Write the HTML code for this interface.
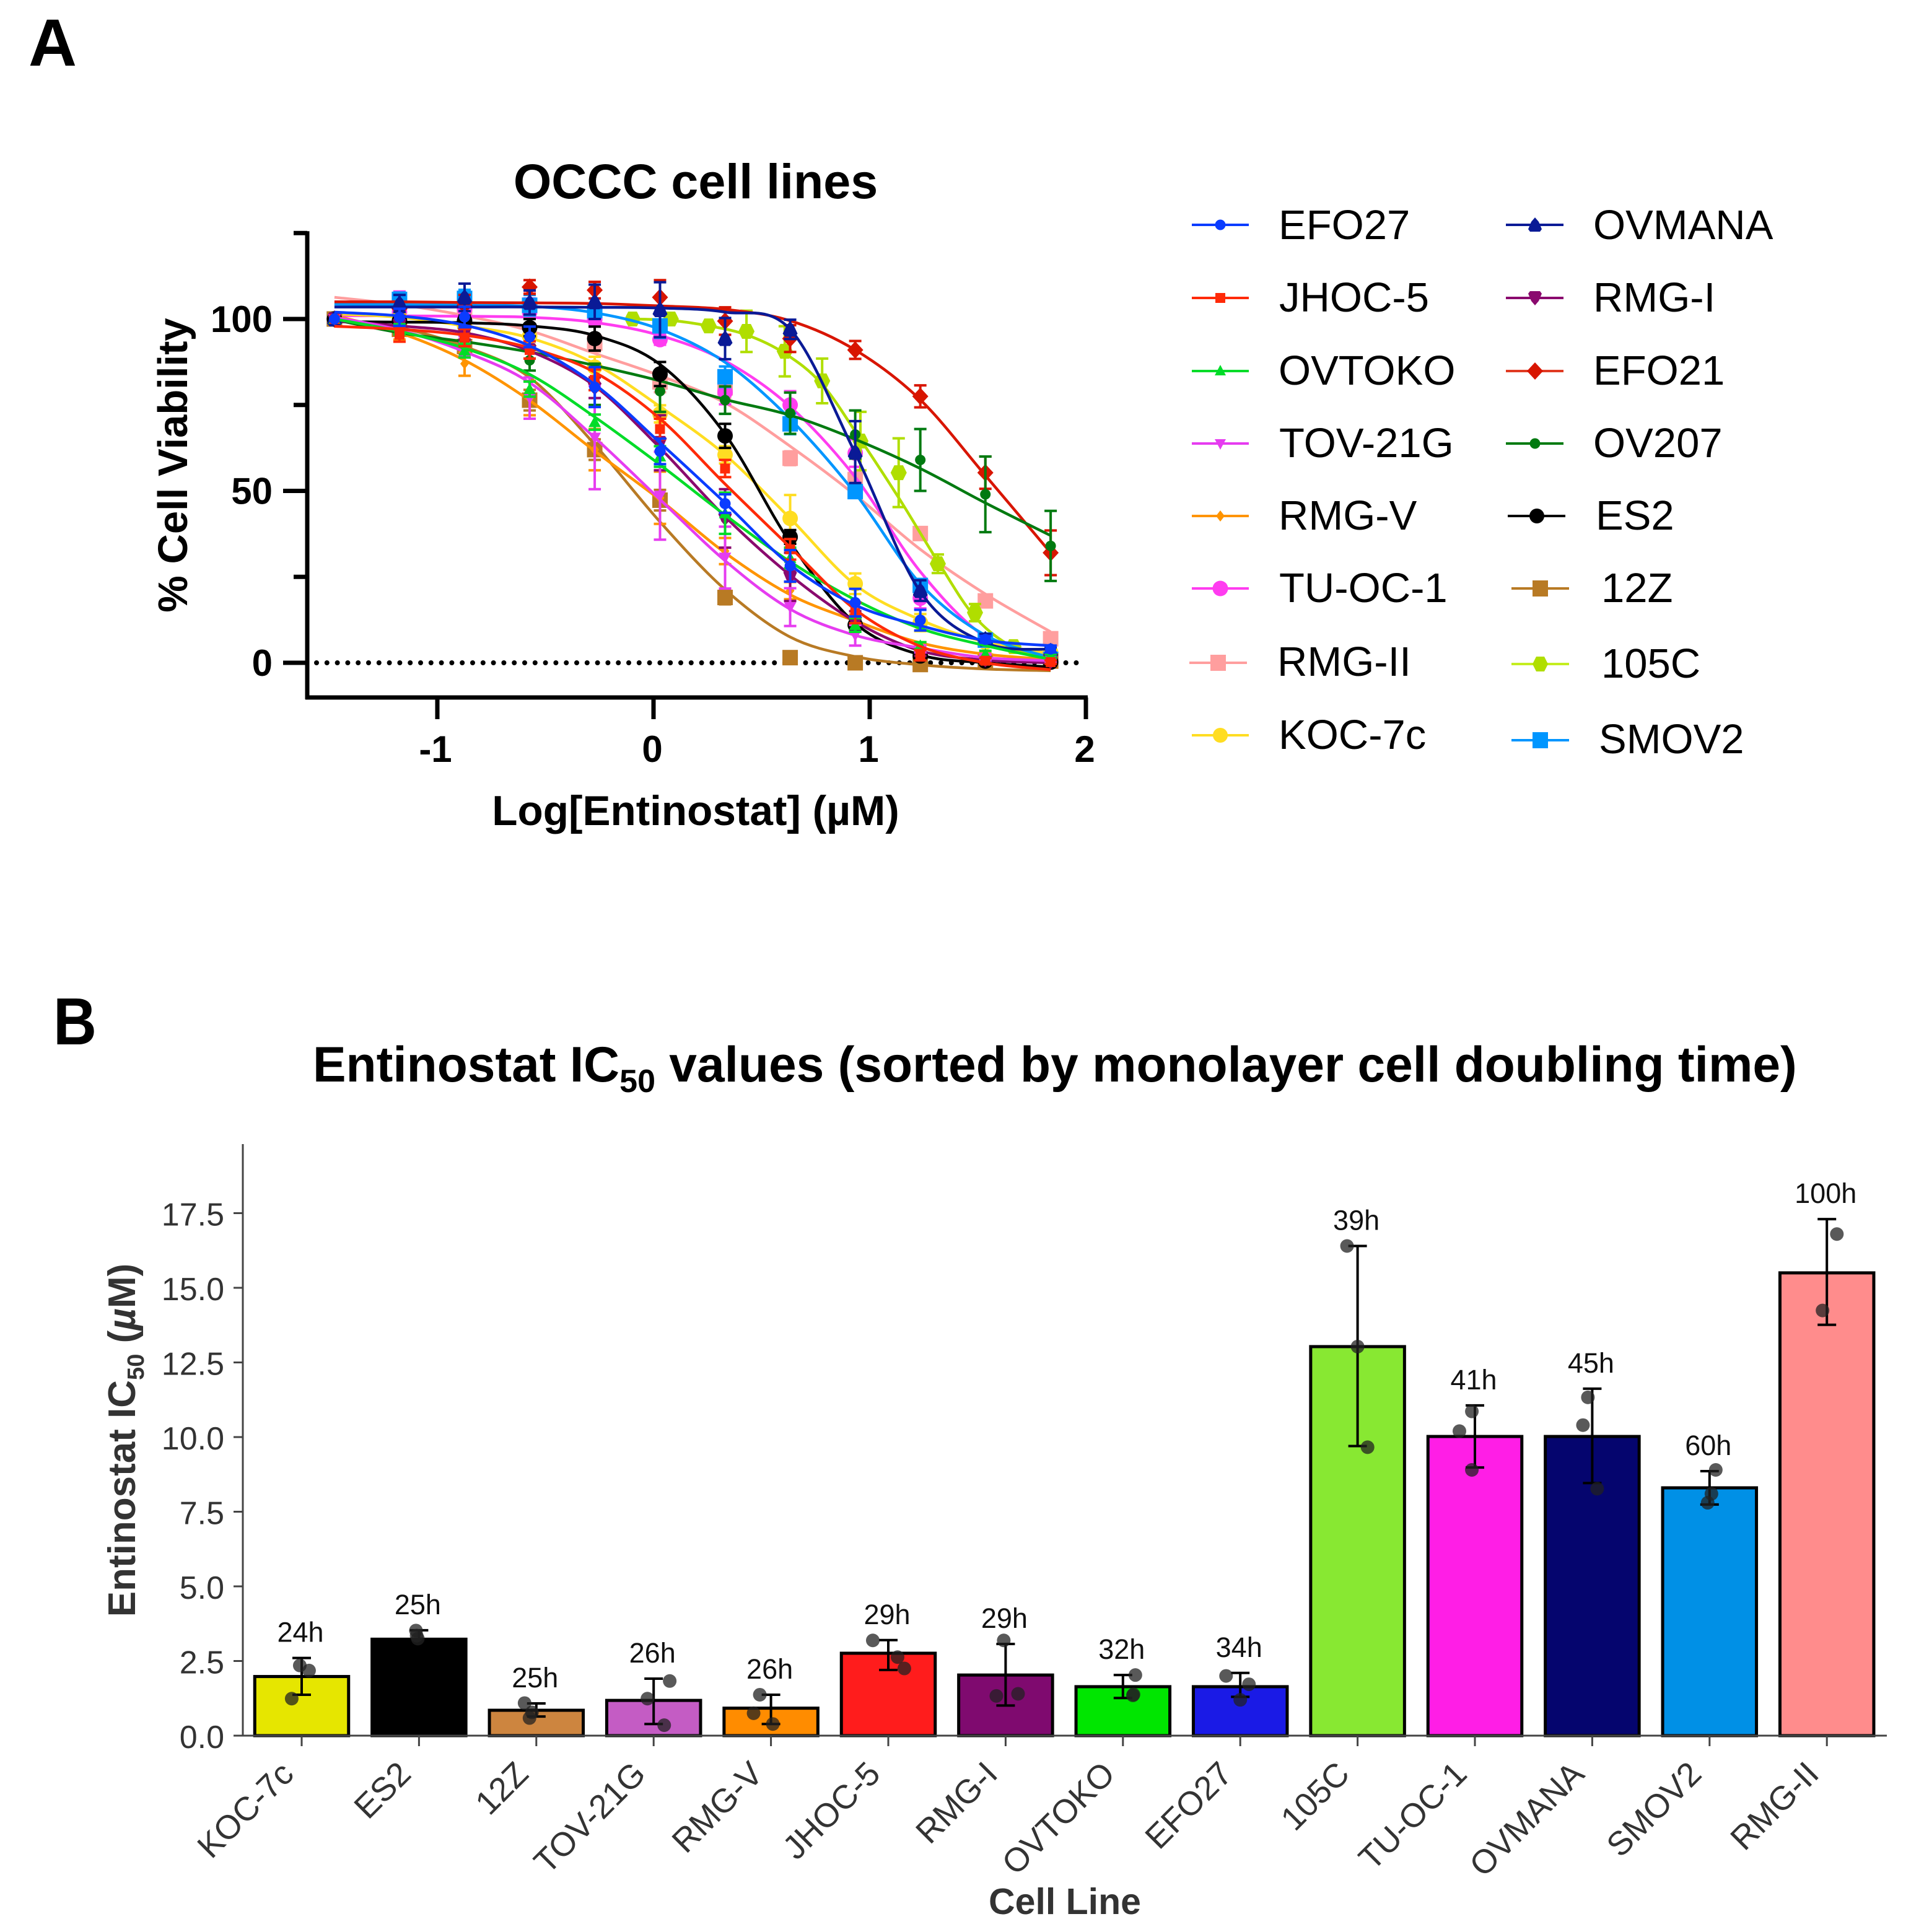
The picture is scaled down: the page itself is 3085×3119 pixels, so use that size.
<!DOCTYPE html>
<html lang="en">
<head>
<meta charset="utf-8">
<title>Entinostat viability and IC50 in OCCC cell lines</title>
<style>
html,body{margin:0;padding:0;background:#fff;}
svg{display:block;font-family:"Liberation Sans",Arial,sans-serif;}
</style>
</head>
<body>
<svg id="fig" xmlns="http://www.w3.org/2000/svg" width="3085" height="3119" viewBox="0 0 3085 3119">
  <rect width="3085" height="3119" fill="#fff"/>

  <text x="46" y="106" font-size="108" font-weight="700">A</text>
  <text x="86" y="1686" font-size="108" font-weight="700" textLength="70" lengthAdjust="spacingAndGlyphs">B</text>

  <text x="1123" y="320" font-size="79" font-weight="700" text-anchor="middle">OCCC cell lines</text>
  <text x="302" y="751" font-size="67" font-weight="700" text-anchor="middle" transform="rotate(-90 302 751)">% Cell Viability</text>
  <text x="1123" y="1332" font-size="67.5" font-weight="700" text-anchor="middle">Log[Entinostat] (µM)</text>

  <g id="plotA"></g>

  <g font-size="67">
    <g><line x1="1924" x2="2016" y1="363" y2="363" stroke="#0a3cff" stroke-width="4"/><circle cx="1970" cy="363" r="8.5" fill="#0a3cff"/><text x="2064" y="386">EFO27</text></g>
    <g><line x1="1924" x2="2016" y1="481" y2="481" stroke="#ff2a08" stroke-width="4"/><rect x="1962" y="473" width="16" height="16" fill="#ff2a08"/><text x="2065" y="503">JHOC-5</text></g>
    <g><line x1="1924" x2="2016" y1="599" y2="599" stroke="#00dc28" stroke-width="4"/><path d="M1970 589L1979 606H1961Z" fill="#00dc28"/><text x="2064" y="621">OVTOKO</text></g>
    <g><line x1="1924" x2="2016" y1="716" y2="716" stroke="#e63cf0" stroke-width="4"/><path d="M1970 726L1961 709H1979Z" fill="#e63cf0"/><text x="2065" y="738">TOV-21G</text></g>
    <g><line x1="1924" x2="2016" y1="833" y2="833" stroke="#ff9400" stroke-width="4"/><path d="M1970 824L1977 833L1970 842L1963 833Z" fill="#ff9400"/><text x="2064" y="855">RMG-V</text></g>
    <g><line x1="1924" x2="2016" y1="950" y2="950" stroke="#ff3cf0" stroke-width="4"/><circle cx="1970" cy="950" r="12.5" fill="#ff3cf0"/><text x="2065" y="972">TU-OC-1</text></g>
    <g><line x1="1920" x2="2013" y1="1070" y2="1070" stroke="#ff9e9e" stroke-width="4"/><rect x="1954" y="1057" width="25" height="26" fill="#ff9e9e"/><text x="2062" y="1091">RMG-II</text></g>
    <g><line x1="1924" x2="2016" y1="1187" y2="1187" stroke="#ffdd22" stroke-width="4"/><circle cx="1970" cy="1187" r="12" fill="#ffdd22"/><text x="2064" y="1209">KOC-7c</text></g>

    <g><line x1="2431" x2="2524" y1="363" y2="363" stroke="#0a1a96" stroke-width="4"/><path d="M2478 351L2484 358L2489 370L2486 374H2470L2467 370L2472 358Z" fill="#0a1a96"/><text x="2572" y="386">OVMANA</text></g>
    <g><line x1="2431" x2="2524" y1="481" y2="481" stroke="#8a0a6e" stroke-width="4"/><path d="M2478 493L2472 486L2467 474L2470 470H2486L2489 474L2484 486Z" fill="#8a0a6e"/><text x="2572" y="503">RMG-I</text></g>
    <g><line x1="2431" x2="2524" y1="599" y2="599" stroke="#e03a22" stroke-width="4"/><path d="M2478 585L2491 599L2478 613L2465 599Z" fill="#d81500"/><text x="2572" y="621">EFO21</text></g>
    <g><line x1="2431" x2="2524" y1="716" y2="716" stroke="#007a10" stroke-width="4"/><circle cx="2478" cy="716" r="8.5" fill="#007a10"/><text x="2572" y="738">OV207</text></g>
    <g><line x1="2434" x2="2527" y1="833" y2="833" stroke="#000" stroke-width="4"/><circle cx="2481" cy="833" r="12" fill="#000"/><text x="2576" y="855">ES2</text></g>
    <g><line x1="2440" x2="2533" y1="950" y2="950" stroke="#b87a24" stroke-width="4"/><rect x="2474" y="937" width="25" height="26" fill="#b87a24"/><text x="2585" y="972">12Z</text></g>
    <g><line x1="2440" x2="2533" y1="1072" y2="1072" stroke="#c4ee20" stroke-width="4"/><path d="M2474 1072L2480 1060H2493L2499 1072L2493 1084H2480Z" fill="#b0de00"/><text x="2585" y="1094">105C</text></g>
    <g><line x1="2440" x2="2533" y1="1195" y2="1195" stroke="#0096ff" stroke-width="4"/><rect x="2474" y="1182" width="25" height="26" fill="#0096ff"/><text x="2581" y="1216">SMOV2</text></g>
  </g>

  <text x="505" y="1746" font-size="80.3" font-weight="700">Entinostat IC<tspan dy="17" font-size="52">50</tspan><tspan dy="-17"> values (sorted by monolayer cell doubling time)</tspan></text>
  <text x="218" y="2325" font-size="62" font-weight="700" fill="#333" text-anchor="middle" transform="rotate(-90 218 2325)">Entinostat IC<tspan dy="14" font-size="38">50</tspan><tspan dy="-14"> (</tspan><tspan font-style="italic">µ</tspan>M)</text>
  <text x="1719" y="3090" font-size="59" font-weight="700" fill="#333" text-anchor="middle">Cell Line</text>

  <g id="plotB"></g>
</svg>

<script>
// ---------- Panel A data: log10 dose ----------
const doses = [-1.476,-1.175,-0.874,-0.573,-0.272,0.03,0.331,0.632,0.933,1.234,1.535,1.837];
const doses105C = [-0.097,0.08,0.255,0.43,0.607,0.78,0.957,1.134,1.315,1.487,1.665];
const curveDoses105C = [-0.097,0.08,0.255,0.43,0.607,0.78,0.957,1.134,1.315,1.487,1.665,1.837];

const pointsEFO27 = [100,100.5,100.6,94.8,80.2,61.5,46.3,28.2,17.5,12.4,6.8,4];
const errEFO27 = [0,2.5,3,3,5.8,3.7,2.7,4.6,4,3,1,1];
const curveEFO27 = [102,100.9,98.2,92.2,81,64,46.5,28.5,16.8,10.8,6.5,5];

const pointsJHOC5 = [100,95.4,94.6,91,82.3,68,56.5,33,14.5,2.2,0.6,0.2];
const errJHOC5 = [0,2,2.5,2.5,3,3,2.5,3,3,1.5,0.8,0.5];
const curveJHOC5 = [97.9,97,95.3,91.6,84.5,71,52,33.6,15.5,4.8,0,-2];

const pointsOVTOKO = [100,97,90.8,79.6,70,60,43.5,30.5,11,5,2.5,2];
const errOVTOKO = [0,1.5,2,2.2,2.2,3,6,3,2,1,1,0.5];
const curveOVTOKO = [100,96.4,91.5,83.9,71.5,57.6,43,29.4,18.3,10,5,1];

const pointsTOV21G = [100,97,92,77,65.5,48.6,30.6,16.2,8,4,1.5,0.6];
const errTOV21G = [0,1.5,3,6,15,12.8,9,5.5,3,1,0.8,0.5];
const curveTOV21G = [100.5,96.8,90.5,81.5,65.5,47.5,29.7,15.6,8,4.3,1.5,0.6];

const pointsRMGV = [100,96,87,77,62,48,32.5,21,12,5,2,1];
const errRMGV = [0,2,3.5,5,6,7.6,3.8,2.5,2,1,0.8,0.5];
const curveRMGV = [101,96,88,76.3,61.6,47.4,32,19.8,12.2,5.8,2.5,1];

const pointsTUOC1 = [100,102,103,102,99.8,94,78.7,75,61,18.8,6,1];
const errTUOC1 = [0,6,3,4,1.5,1.5,3.5,4,4,3,1,0.5];
const curveTUOC1 = [101,100.9,100.8,100.5,99,95.2,87.8,74.5,54,26.5,7.5,0.8];

const pointsRMGII = [100,105,103,104,93,81.7,80,59.5,53.3,37.6,18,7];
const errRMGII = [0,2,3,4,2.5,3,3,2,2,1.5,1,0.8];
const curveRMGII = [106.3,104.2,101,96.6,90,83.5,75.6,63,48.8,33,20,9];

const pointsKOC7c = [100,100.5,98,95,86,72.4,60.5,42,23,11.7,6,3];
const errKOC7c = [0,2,2,2.5,3,2.5,2.5,6.8,3,2.5,1,0.8];
const curveKOC7c = [101.5,100.5,98,94.5,87,74.5,60.5,42,22.7,12.5,6,2.7];

const pointsOVMANA = [100,104.5,106.3,104.8,105,102.7,94.3,97,61.3,21,6.9,3.5];
const errOVMANA = [0,2.5,4,3.5,5,8,6,2.8,9,3,1.5,1];
const curveOVMANA = [103.5,103.5,103.5,103.5,103.4,103.2,102,97,61,20.7,5.8,3.9];

const pointsRMGI = [100,98.5,96,91,80,64,42,25,12,3,0.8,0.3];
const errRMGI = [0,1,2,2.5,3,8,8.5,7,3,1,0.5,0.3];
const curveRMGI = [99.5,98,96,90.7,80.5,62.5,42.5,25.5,12,3.5,0.8,0];

const pointsEFO21 = [100,103,104,109.3,108.4,106.3,99.4,94.3,91,77.5,55.3,32];
const errEFO21 = [0,2,3,2,2.4,5,4,3.9,2.6,3.2,4.7,6.5];
const curveEFO21 = [105,105,104.8,104.7,104.5,103.8,102.8,99.5,91,76.5,54.5,32];

const pointsOV207 = [100,97,93,88,81,79,76.4,72.6,66.4,59,49,34];
const errOV207 = [0,1.5,2,3,6,6,4,6,7,9,11,10.2];
const curveOV207 = [99.8,96,93.4,90.4,86.5,82,76.6,72,65,56.5,46.5,37];

const pointsES2 = [100,99.5,99.5,97.5,94.3,84,66,36.6,11,2,0.5,0.2];
const errES2 = [0,1,1.5,2.5,3.5,3.5,3.5,2,1.5,0.8,0.5,0.5];
const curveES2 = [99.2,99.1,98.9,98,95.2,86.8,66.5,35,11.5,2.3,0,-1.2];

const points12Z = [100,97,92,76.4,62,47.3,19,1.5,0,-0.5,0.5,0.5];
const err12Z = [0,1.5,2,3,3,3,2,1,0.8,0.5,0.5,0.5];
const curve12Z = [100,97.5,92,83,63.5,41,21.3,7.5,1.8,-0.6,-1.8,-2.3];

const points105C = [100,100,98,96.4,90.6,82,64.5,55.3,28.8,14.6,4.7];
const err105C = [0.8,0.8,0.8,6,7.3,6.5,8.5,10,2.7,2.5,1];
const curve105C = [100,99.6,98,95.4,90,81,65,48,29.5,13.3,4.4,0.9];

const pointsSMOV2 = [100,105.7,106,104,102.4,98,83.2,69.5,49.8,22.5,6.6,1];
const errSMOV2 = [0,2,2.5,3,2,3.5,3,3,1.5,1,1,0.5];
const curveSMOV2 = [104.3,104.2,104,103.7,101.8,97,87.4,70.9,49.3,23,8,1.5];

const yMajorA = [0,50,100];
const yMinorA = [25,75,125];
const xTicksA = [-1,0,1,2];

// ---------- Panel B data ----------
const barCategories = ['KOC-7c','ES2','12Z','TOV-21G','RMG-V','JHOC-5','RMG-I','OVTOKO','EFO27','105C','TU-OC-1','OVMANA','SMOV2','RMG-II'];
const barValues = [1.98,3.23,0.85,1.18,0.92,2.76,2.03,1.64,1.64,13.03,10.02,10.02,8.3,15.5];
const barHigh = [2.6,3.53,1.08,1.91,1.37,3.2,3.07,2.03,2.1,16.4,11.06,11.62,8.86,17.3];
const barLow = [1.37,2.93,0.64,0.39,0.39,2.2,1.01,1.26,1.3,9.7,8.98,8.46,7.74,13.76];
const barHours = ['24h','25h','25h','26h','26h','29h','29h','32h','34h','39h','41h','45h','60h','100h'];
const replicateValues = [[2.35,2.18,1.24],[3.52,3.35,3.25],[1.09,0.78,0.59],[1.83,1.24,0.35],[1.37,0.75,0.39],[3.19,2.63,2.25],[3.19,1.33,1.4],[2.03,1.38,1.35],[2,1.72,1.2],[16.4,13.03,9.66],[10.2,10.86,8.9],[10.4,11.33,8.27],[8.9,8.1,7.8],[16.8,14.24]];
const replicateJitter = [[-0.016,0.063,-0.085],[-0.026,-0.02,-0.01],[-0.1,-0.037,-0.058],[0.137,-0.053,0.09],[-0.095,-0.148,0.016],[-0.132,0.079,0.137],[-0.016,-0.079,0.106],[0.106,0.09,0.085],[-0.121,0.074,0],[-0.09,0,0.085],[-0.132,-0.026,-0.026],[-0.079,-0.037,0.042],[0.053,0.016,-0.016],[0.085,-0.037]];
const yTicksB = [0,2.5,5,7.5,10,12.5,15,17.5];

// ---------- helpers ----------
const NS = 'http://www.w3.org/2000/svg';
function mk(tag, parent, attrs) {
  const el = document.createElementNS(NS, tag);
  for (const k in attrs) el.setAttribute(k, attrs[k]);
  parent.appendChild(el);
  return el;
}
function slug(s) { return s.toLowerCase().replace(/[^a-z0-9]+/g, '-'); }

// ---------- Panel A ----------
const plotA = document.getElementById('plotA');
const xA = v => 1055 + 349 * v;
const yA = v => 1070 - 5.55 * v;

const MARKERS = {
  dotS: (g, c) => mk('circle', g, {r: 9, fill: c}),
  dotM: (g, c) => mk('circle', g, {r: 8.5, fill: c}),
  dotL: (g, c) => mk('circle', g, {r: 12.5, fill: c}),
  sqS: (g, c) => mk('rect', g, {x: -8, y: -8, width: 16, height: 16, fill: c}),
  sqL: (g, c) => mk('rect', g, {x: -12.5, y: -12.5, width: 25, height: 25, fill: c}),
  tri: (g, c) => mk('path', g, {d: 'M0-10L10 8H-10Z', fill: c}),
  triDown: (g, c) => mk('path', g, {d: 'M0 10L-10-8H10Z', fill: c}),
  diaS: (g, c) => mk('path', g, {d: 'M0-9L7 0L0 9L-7 0Z', fill: c}),
  dia: (g, c) => mk('path', g, {d: 'M0-14L13 0L0 14L-13 0Z', fill: c}),
  house: (g, c) => mk('path', g, {d: 'M0-13L6-6L12 7L8 12H-8L-12 7L-6-6Z', fill: c}),
  houseDown: (g, c) => mk('path', g, {d: 'M0 12L-6 5L-11-7L-8-11H8L11-7L6 5Z', fill: c}),
  hex: (g, c) => mk('path', g, {d: 'M-13 0L-7-12H7L13 0L7 12H-7Z', fill: c})
};

const seriesList = [
  {name: 'RMG-II', color: '#ff9e9e', marker: 'sqL', x: doses, cx: doses, pts: pointsRMGII, err: errRMGII, curve: curveRMGII},
  {name: 'TU-OC-1', color: '#ff3cf0', marker: 'dotL', x: doses, cx: doses, pts: pointsTUOC1, err: errTUOC1, curve: curveTUOC1},
  {name: 'KOC-7c', color: '#ffdd22', marker: 'dotL', x: doses, cx: doses, pts: pointsKOC7c, err: errKOC7c, curve: curveKOC7c},
  {name: '105C', color: '#b0de00', marker: 'hex', x: doses105C, cx: curveDoses105C, pts: points105C, err: err105C, curve: curve105C},
  {name: 'SMOV2', color: '#0096ff', marker: 'sqL', x: doses, cx: doses, pts: pointsSMOV2, err: errSMOV2, curve: curveSMOV2},
  {name: '12Z', color: '#b87a24', marker: 'sqL', x: doses, cx: doses, pts: points12Z, err: err12Z, curve: curve12Z},
  {name: 'RMG-V', color: '#ff9400', marker: 'diaS', x: doses, cx: doses, pts: pointsRMGV, err: errRMGV, curve: curveRMGV},
  {name: 'EFO21', color: '#d81500', marker: 'dia', x: doses, cx: doses, pts: pointsEFO21, err: errEFO21, curve: curveEFO21},
  {name: 'OV207', color: '#007a10', marker: 'dotM', x: doses, cx: doses, pts: pointsOV207, err: errOV207, curve: curveOV207},
  {name: 'ES2', color: '#000000', marker: 'dotL', x: doses, cx: doses, pts: pointsES2, err: errES2, curve: curveES2},
  {name: 'RMG-I', color: '#8a0a6e', marker: 'houseDown', x: doses, cx: doses, pts: pointsRMGI, err: errRMGI, curve: curveRMGI},
  {name: 'OVMANA', color: '#0a1a96', marker: 'house', x: doses, cx: doses, pts: pointsOVMANA, err: errOVMANA, curve: curveOVMANA},
  {name: 'TOV-21G', color: '#e63cf0', marker: 'triDown', x: doses, cx: doses, pts: pointsTOV21G, err: errTOV21G, curve: curveTOV21G},
  {name: 'OVTOKO', color: '#00dc28', marker: 'tri', x: doses, cx: doses, pts: pointsOVTOKO, err: errOVTOKO, curve: curveOVTOKO},
  {name: 'JHOC-5', color: '#ff2a08', marker: 'sqS', x: doses, cx: doses, pts: pointsJHOC5, err: errJHOC5, curve: curveJHOC5},
  {name: 'EFO27', color: '#0a3cff', marker: 'dotS', x: doses, cx: doses, pts: pointsEFO27, err: errEFO27, curve: curveEFO27}
];

function smoothPath(xs, ys) {
  const p = xs.map((x, i) => [xA(x), yA(ys[i])]);
  let d = 'M' + p[0][0].toFixed(1) + ' ' + p[0][1].toFixed(1);
  for (let i = 0; i < p.length - 1; i++) {
    const p0 = p[Math.max(0, i - 1)], p1 = p[i], p2 = p[i + 1], p3 = p[Math.min(p.length - 1, i + 2)];
    const c1x = p1[0] + (p2[0] - p0[0]) / 6, c1y = p1[1] + (p2[1] - p0[1]) / 6;
    const c2x = p2[0] - (p3[0] - p1[0]) / 6, c2y = p2[1] - (p3[1] - p1[1]) / 6;
    d += 'C' + c1x.toFixed(1) + ' ' + c1y.toFixed(1) + ' ' + c2x.toFixed(1) + ' ' + c2y.toFixed(1) + ' ' + p2[0].toFixed(1) + ' ' + p2[1].toFixed(1);
  }
  return d;
}

// axes
const axisA = mk('g', plotA, {stroke: '#000', 'stroke-width': 7, fill: 'none'});


const yLineA = mk('line', axisA, {x1: 496, x2: 496, y1: yA(125) - 3, y2: 1129});


const xLineA = mk('line', axisA, {x1: 493, x2: xA(2) + 3, y1: 1126, y2: 1126});



yMajorA.forEach(v => {
  const t = mk('line', axisA, {x1: 457, x2: 496, y1: yA(v), y2: yA(v)});
  
  
  const lab = mk('text', plotA, {x: 440, y: yA(v) + 21, 'font-size': 60, 'font-weight': 700, 'text-anchor': 'end'});
  lab.textContent = String(v);
  
  
});
yMinorA.forEach(v => {
  const t = mk('line', axisA, {x1: 474, x2: 496, y1: yA(v), y2: yA(v)});
  
  
});
xTicksA.forEach(v => {
  const t = mk('line', axisA, {x1: xA(v), x2: xA(v), y1: 1126, y2: 1161});
  
  
  const lab = mk('text', plotA, {x: xA(v) - (v < 0 ? 3 : 2), y: 1230, 'font-size': 60, 'font-weight': 700, 'text-anchor': 'middle'});
  lab.textContent = String(v);
  
  
});

const zeroLine = mk('line', plotA, {x1: 511, x2: 1741, y1: yA(0), y2: yA(0), stroke: '#000', 'stroke-width': 8, 'stroke-linecap': 'round', 'stroke-dasharray': '0 16.8'});



seriesList.forEach(s => {
  const g = mk('g', plotA, {});
  
  
  const curve = mk('path', g, {d: smoothPath(s.cx, s.curve), fill: 'none', stroke: s.color, 'stroke-width': 4.5});
  
  
  s.pts.forEach((v, i) => {
    const px = xA(s.x[i]);
    if (s.err[i] > 0) {
      const hi = yA(v + s.err[i]), lo = yA(v - s.err[i]);
      const eb = mk('path', g, {d: 'M' + px + ' ' + hi + 'V' + lo + 'M' + (px - 10) + ' ' + hi + 'H' + (px + 10) + 'M' + (px - 10) + ' ' + lo + 'H' + (px + 10), fill: 'none', stroke: s.color, 'stroke-width': 4});
      
      
    }
    const m = mk('g', g, {transform: 'translate(' + px + ' ' + yA(v) + ')'});
    
    
    MARKERS[s.marker](m, s.color);
  });
});

// ---------- Panel B ----------
const plotB = document.getElementById('plotB');
const barStep = 189.4, barWidth = 151.5;
const xB = i => 487 + barStep * i;
const yB = v => 2802 - 48.2 * v;
const barColors = ['#e6e600','#000000','#cd853f','#c45cc4','#ff8c00','#ff1c1c','#7f0a6f','#00e600','#1a1ae6','#88e832','#ff1ee6','#05056e','#0090e6','#ff8c8c'];

barCategories.forEach((name, i) => {
  const g = mk('g', plotB, {});
  
  
  const cx = xB(i);
  const bar = mk('rect', g, {x: cx - barWidth / 2, y: yB(barValues[i]), width: barWidth, height: yB(0) - yB(barValues[i]), fill: barColors[i], stroke: '#000', 'stroke-width': 5});
  
  
  const hi = yB(barHigh[i]), lo = yB(barLow[i]);
  const eb = mk('path', g, {d: 'M' + cx + ' ' + hi + 'V' + lo + 'M' + (cx - 15) + ' ' + hi + 'H' + (cx + 15) + 'M' + (cx - 15) + ' ' + lo + 'H' + (cx + 15), fill: 'none', stroke: '#000', 'stroke-width': 4});
  
  
  replicateValues[i].forEach((v, j) => {
    const dot = mk('circle', g, {cx: cx + replicateJitter[i][j] * barStep, cy: yB(v), r: 11, fill: '#222', 'fill-opacity': 0.75});
    
    
  });
  const hl = mk('text', g, {x: cx - 2, y: hi - 26, 'font-size': 45, 'text-anchor': 'middle', fill: '#111'});
  hl.textContent = barHours[i];
  
  
  const tick = mk('line', g, {x1: cx, x2: cx, y1: 2802, y2: 2819, stroke: '#444', 'stroke-width': 3});
  
  
  const tx = cx - 10, ty = 2867;
  const lab = mk('text', g, {x: tx, y: ty, 'font-size': 54, fill: '#333', 'text-anchor': 'end', transform: 'rotate(-45 ' + tx + ' ' + ty + ')'});
  lab.textContent = name;
  
  
});

const yLineB = mk('line', plotB, {x1: 392, x2: 392, y1: 1847, y2: 2803, stroke: '#444', 'stroke-width': 3});


const xLineB = mk('line', plotB, {x1: 377, x2: 3046, y1: 2802, y2: 2802, stroke: '#444', 'stroke-width': 3});



yTicksB.forEach(v => {
  const t = mk('line', plotB, {x1: 377, x2: 392, y1: yB(v), y2: yB(v), stroke: '#444', 'stroke-width': 3});
  
  
  const lab = mk('text', plotB, {x: 362, y: yB(v) + 20, 'font-size': 52, fill: '#333', 'text-anchor': 'end'});
  lab.textContent = v.toFixed(1);
  
  
});
</script>
</body>
</html>
